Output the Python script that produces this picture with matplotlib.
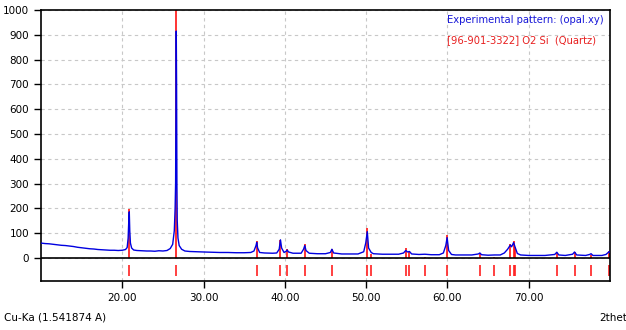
import numpy as np
import matplotlib
matplotlib.use("Agg")
import matplotlib.pyplot as plt

two_theta = [10.0, 10.5, 11.0, 11.5, 12.0, 12.5, 13.0, 13.5, 14.0, 14.5, 15.0, 15.5,
             16.0, 16.5, 17.0, 17.5, 18.0, 18.5, 19.0, 19.5, 20.0, 20.4, 20.6, 20.72,
             20.8, 20.86, 20.92, 21.0, 21.15, 21.4, 21.8, 22.3, 23.0, 23.5, 24.0, 24.5,
             25.0, 25.5, 25.9, 26.2, 26.4, 26.5, 26.56, 26.6, 26.64, 26.68, 26.7, 26.72,
             26.76, 26.85, 27.0, 27.3, 27.7, 28.3, 29.0, 30.0, 31.0, 32.0, 33.0, 34.0,
             35.0, 35.8, 36.2, 36.45, 36.54, 36.65, 36.9, 37.5, 38.5, 39.0, 39.3, 39.46,
             39.6, 39.9, 40.2, 40.29, 40.45, 41.0, 42.0, 42.3, 42.45, 42.6, 43.0, 44.0,
             45.0, 45.6, 45.79, 46.0, 47.0, 48.0, 49.0, 49.7, 49.95, 50.14, 50.3, 50.62,
             50.9, 52.0, 53.0, 54.0, 54.6, 54.87, 55.1, 55.33, 55.6, 56.5, 57.23, 58.0,
             59.0, 59.5, 59.8, 59.96, 60.15, 60.5, 61.0, 62.0, 63.0, 63.8, 63.99, 64.2,
             65.0, 65.79, 66.5, 67.0, 67.4, 67.74, 67.9, 68.14, 68.31, 68.6, 69.0, 70.0,
             71.0, 72.0, 73.2, 73.46, 73.7, 74.5, 75.4, 75.64, 75.9, 77.0, 77.5, 77.67,
             77.9, 79.0, 79.5, 79.88, 80.0]
counts = [60, 58, 57, 55, 53, 51, 50, 48, 46, 43, 41, 39,
          37, 36, 34, 33, 32, 31, 31, 30, 31, 34, 42, 80,
          150, 186, 110, 60, 40, 32, 30, 29, 28, 28, 27, 29,
          28, 30, 38, 55, 110, 200, 300, 600, 915, 700, 470, 300,
          150, 80, 50, 35, 28, 26, 25, 24, 23, 22, 22, 21,
          21, 22, 28, 50, 63, 40, 22, 20, 19, 20, 35, 73,
          40, 22, 28, 32, 24, 19, 19, 35, 50, 30, 19, 17,
          17, 22, 35, 20, 16, 16, 16, 25, 60, 106, 40, 22,
          17, 15, 15, 15, 20, 30, 24, 26, 16, 14, 15, 13,
          13, 20, 50, 82, 30, 14, 12, 12, 12, 16, 20, 13,
          11, 12, 12, 20, 35, 52, 45, 62, 45, 18, 12, 10,
          10, 10, 14, 23, 12, 10, 15, 24, 12, 10, 14, 17,
          10, 10, 14, 25, 22]

# reference lines [96-901-3322] O2 Si (Quartz)
ref_pos = [20.86, 26.64, 36.54, 39.46, 40.29, 42.45, 45.79, 50.14, 50.62, 54.87, 55.33,
           57.23, 59.96, 63.99, 65.79, 67.74, 68.14, 68.31, 73.46, 75.64, 77.67, 79.88]
ref_int = [198, 1000, 68, 72, 38, 55, 38, 122, 15, 40, 25,
           5, 92, 18, 5, 55, 68, 45, 18, 25, 10, 30]

plt.rcParams['font.family'] = ['DejaVu Sans']
fig = plt.figure(figsize=(6.26, 3.30), dpi=100)
ax = fig.add_axes([41/626, 1-281/330, (610-41)/626, (281-10)/330])

ax.vlines(ref_pos, 0, ref_int, color='#ff1010', linewidth=1.2, zorder=2)
ax.vlines(ref_pos, -73, -28, color='#ff2020', linewidth=1.2, zorder=2)
ax.plot(two_theta, counts, color='#0000e0', linewidth=1.0, zorder=3)
ax.axhline(0, color='black', linewidth=1.2, zorder=4)

ax.set_xlim(10, 80)
ax.set_ylim(-93, 1000)
ax.set_yticks(np.arange(0, 1001, 100))
ax.set_xticks(np.arange(20, 71, 10))
ax.set_xticklabels(['%.2f' % v for v in np.arange(20, 71, 10)])
ax.tick_params(labelsize=7.5, length=5, width=1, direction='out')
ax.grid(True, color='#c8c8c8', linestyle=(0, (3, 3)), linewidth=0.8)
for s in ax.spines.values():
    s.set_linewidth(1.2)

fig.text(447/626, 1-20/330, 'Experimental pattern: (opal.xy)', color='#1818d8',
         fontsize=7.2, va='center', ha='left')
fig.text(447/626, 1-40/330, '[96-901-3322] O2 Si  (Quartz)', color='#e82020',
         fontsize=7.2, va='center', ha='left')
fig.text(4/626, 1-318/330, 'Cu-Ka (1.541874 A)', fontsize=7.5, va='center', ha='left')
fig.text(599/626, 1-318/330, '2thet', fontsize=7.5, va='center', ha='left')

fig.savefig('out.png', dpi=100)
